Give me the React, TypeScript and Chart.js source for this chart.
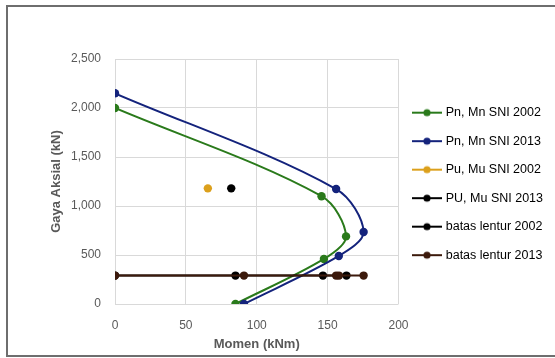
import React, { useEffect, useRef } from "react";
import { Chart, registerables } from "chart.js";

Chart.register(...registerables);

const seriesNames = [
  "Pn, Mn SNI 2002",
  "Pn, Mn SNI 2013",
  "Pu, Mu SNI 2002",
  "PU, Mu SNI 2013",
  "batas lentur 2002",
  "batas lentur 2013",
];
const seriesColors = ["#2a7a1b", "#14237c", "#dca01c", "#000000", "#000000", "#3c1a0c"];

// Momen (kNm) and Gaya Aksial (kN)
const pn2002M = [0, 145.7, 163, 147.4, 85];
const pn2002P = [2000, 1100, 690, 460, 0];
const pn2013M = [0, 156, 175.4, 157.9, 91];
const pn2013P = [2150, 1173, 735, 490, 0];
const pu2002M = [65.5];
const pu2002P = [1180];
const pu2013M = [82];
const pu2013P = [1180];
const batas2002M = [0, 85, 146.7, 163.3];
const batas2002P = [290, 290, 290, 290];
const batas2013M = [0, 91, 156, 158, 175.4];
const batas2013P = [290, 290, 290, 290, 290];

const xTicks = [0, 50, 100, 150, 200];
const yTicks = [0, 500, 1000, 1500, 2000, 2500];

const FONT = "'Liberation Sans', Arial, sans-serif";

function pts(xs: number[], ys: number[]) {
  return xs.map((x, i) => ({ x, y: ys[i] }));
}

function makeIcon(color: string) {
  const c = document.createElement("canvas");
  c.width = 30;
  c.height = 10;
  const g = c.getContext("2d")!;
  g.strokeStyle = color;
  g.lineWidth = 2;
  g.beginPath();
  g.moveTo(0, 5);
  g.lineTo(30, 5);
  g.stroke();
  g.fillStyle = color;
  g.beginPath();
  g.arc(15, 5, 3.6, 0, Math.PI * 2);
  g.fill();
  return c;
}

export default function App() {
  const ref = useRef<HTMLCanvasElement | null>(null);

  useEffect(() => {
    if (!ref.current) return;
    const icons = seriesColors.map(makeIcon);
    const data = [
      pts(pn2002M, pn2002P),
      pts(pn2013M, pn2013P),
      pts(pu2002M, pu2002P),
      pts(pu2013M, pu2013P),
      pts(batas2002M, batas2002P),
      pts(batas2013M, batas2013P),
    ];
    const showLines = [true, true, false, false, true, true];
    const tensions = [0.33, 0.33, 0, 0, 0, 0];
    const chart = new Chart(ref.current, {
      type: "scatter",
      data: {
        datasets: data.map((d, i) => ({
          label: seriesNames[i],
          data: d,
          showLine: showLines[i],
          tension: tensions[i],
          borderColor: seriesColors[i],
          backgroundColor: seriesColors[i],
          borderWidth: 2,
          pointRadius: 4.2,
          pointBorderWidth: 0,
          pointHoverRadius: 4.2,
          order: 5 - i,
        })),
      },
      options: {
        animation: false,
        responsive: false,
        layout: { padding: { left: 49, right: 2, top: 59, bottom: 6 } },
        plugins: {
          tooltip: { enabled: false },
          legend: {
            position: "right",
            align: "start",
            maxWidth: 220,
            title: {
              display: true,
              text: " ",
              font: { family: FONT, size: 12 },
              padding: { top: 17, bottom: 0 },
            },
            labels: {
              usePointStyle: true,
              pointStyleWidth: 25,
              boxHeight: 12,
              padding: 16,
              color: "#000",
              font: { family: FONT, size: 12.5 },
              generateLabels: (ch: any) =>
                ch.data.datasets.map((ds: any, i: number) => ({
                  text: ds.label,
                  pointStyle: icons[i],
                  fillStyle: seriesColors[i],
                  strokeStyle: seriesColors[i],
                  lineWidth: 0,
                  hidden: false,
                  datasetIndex: i,
                  fontColor: "#000",
                })),
            },
          },
        },
        scales: {
          x: {
            type: "linear",
            min: 0,
            max: 200,
            afterBuildTicks: (s: any) => {
              s.ticks = xTicks.map((v) => ({ value: v }));
            },
            afterFit: (s: any) => {
              s.height = 48;
            },
            grid: { color: "#d9d9d9", drawTicks: false, lineWidth: 1 },
            border: { display: false },
            ticks: { color: "#595959", font: { family: FONT, size: 12 }, padding: 14 },
            title: {
              display: true,
              text: "Momen (kNm)",
              color: "#595959",
              font: { family: FONT, size: 13, weight: "bold" },
              padding: { top: 4, bottom: 0 },
            },
          },
          y: {
            type: "linear",
            min: 0,
            max: 2500,
            afterBuildTicks: (s: any) => {
              s.ticks = yTicks.map((v) => ({ value: v }));
            },
            afterFit: (s: any) => {
              s.width = 66;
            },
            grid: { color: "#d9d9d9", drawTicks: false, lineWidth: 1 },
            border: { display: false },
            ticks: { color: "#595959", font: { family: FONT, size: 12 }, padding: 14 },
            title: {
              display: true,
              text: "Gaya Aksial (kN)",
              color: "#595959",
              font: { family: FONT, size: 13, weight: "bold" },
              padding: { top: 0, bottom: 6 },
            },
          },
        },
      } as any,
    });
    return () => chart.destroy();
  }, []);

  return (
    <div style={{ position: "fixed", left: 0, top: 0, width: 555, height: 358, overflow: "hidden", background: "#fff" }}>
      <div
        style={{
          position: "absolute",
          left: 6,
          top: 5,
          width: 600,
          height: 348,
          border: "2px solid #6e6e6e",
        }}
      />
      <canvas ref={ref} width={555} height={358} style={{ position: "absolute", left: 0, top: 0, width: 555, height: 358 }} />
    </div>
  );
}
